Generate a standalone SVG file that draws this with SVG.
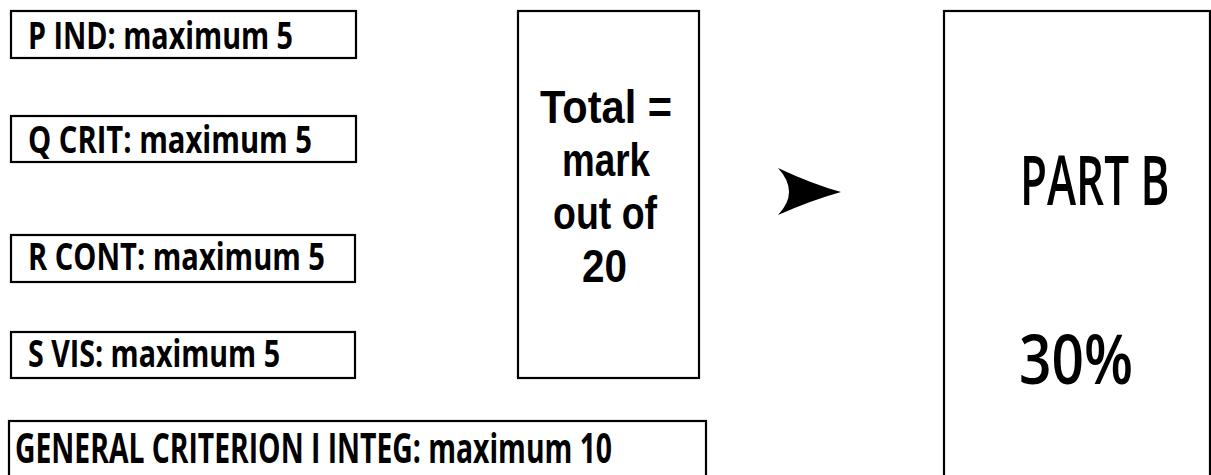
<svg xmlns="http://www.w3.org/2000/svg" width="1211" height="475" viewBox="0 0 1211 475">
<style>
.box{fill:#fff;stroke:#000;stroke-width:2.2}
.t{font-family:"Open Sans","Liberation Sans",sans-serif;font-weight:700;fill:#000}
.s{font-size:38px}
.m{font-family:"Liberation Sans","Open Sans",sans-serif;font-size:46px}
.l{font-size:68px;font-weight:600}
</style>
<rect width="1211" height="475" fill="#fff"/>
<g id="p-ind">
<rect class="box" x="11" y="11" width="345" height="47"/>
<text class="t s" x="28" y="49" textLength="265" lengthAdjust="spacingAndGlyphs">P IND: maximum 5</text>
</g>
<g id="q-crit">
<rect class="box" x="11" y="116" width="345" height="46"/>
<text class="t s" x="28" y="153" textLength="284" lengthAdjust="spacingAndGlyphs">Q CRIT: maximum 5</text>
</g>
<g id="r-cont">
<rect class="box" x="11" y="235" width="344" height="47"/>
<text class="t s" x="28" y="270" textLength="297" lengthAdjust="spacingAndGlyphs">R CONT: maximum 5</text>
</g>
<g id="s-vis">
<rect class="box" x="11" y="332" width="344" height="46"/>
<text class="t s" x="28" y="367" textLength="252" lengthAdjust="spacingAndGlyphs">S VIS: maximum 5</text>
</g>
<g id="general">
<rect class="box" x="9" y="421" width="697" height="60"/>
<text class="t" style="font-size:41px" x="15" y="463" textLength="597" lengthAdjust="spacingAndGlyphs">GENERAL CRITERION I INTEG: maximum 10</text>
</g>
<g id="total">
<rect class="box" x="518" y="11" width="181" height="367"/>
<text class="t m" x="540" y="123" textLength="132" lengthAdjust="spacingAndGlyphs">Total =</text>
<text class="t m" x="562" y="176" textLength="88" lengthAdjust="spacingAndGlyphs">mark</text>
<text class="t m" x="553" y="229" textLength="104" lengthAdjust="spacingAndGlyphs">out of</text>
<text class="t m" x="582" y="282" textLength="45" lengthAdjust="spacingAndGlyphs">20</text>
</g>
<g id="part-b">
<rect class="box" x="944" y="11" width="266" height="470"/>
<text class="t l" transform="translate(1020,205) scale(0.647,1)" x="0" y="0">PART B</text>
<text class="t l" x="1019" y="384" textLength="114" lengthAdjust="spacingAndGlyphs">30%</text>
</g>
<g id="connectors">
<path d="M778,168 Q812,184 841,192 Q812,200 778,215 Q800,192 778,168 Z" fill="#000"/>
</g>
</svg>
